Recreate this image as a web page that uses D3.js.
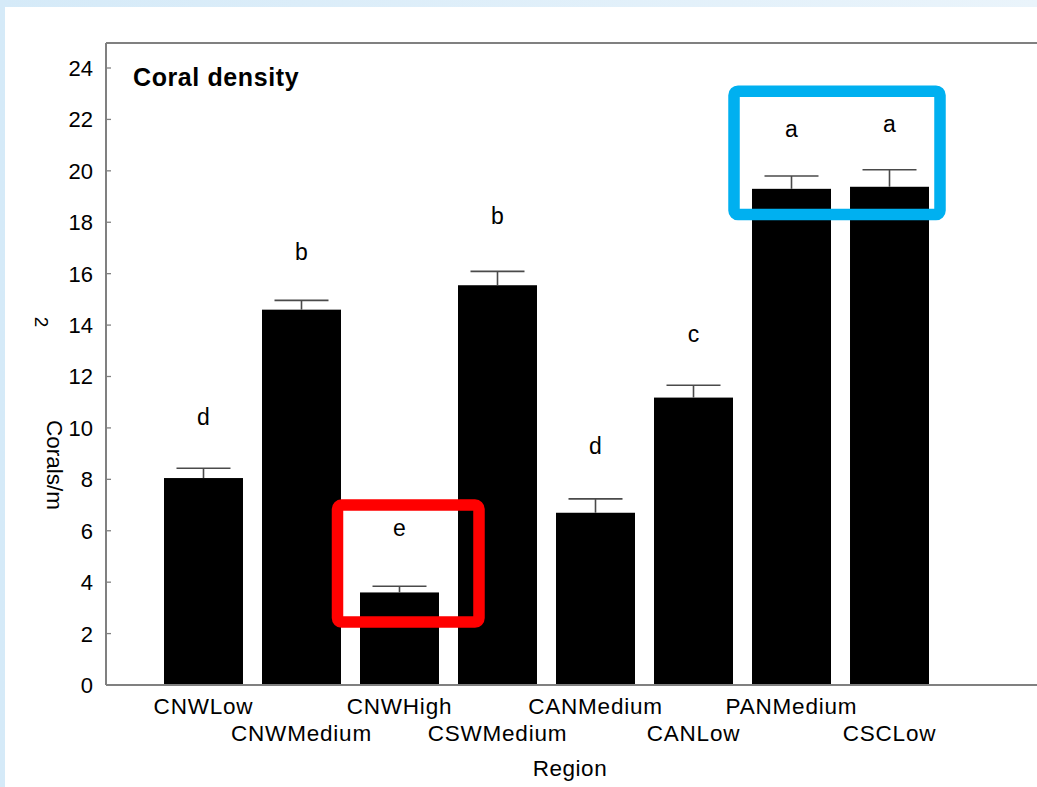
<!DOCTYPE html>
<html>
<head>
<meta charset="utf-8">
<script src="https://cdn.jsdelivr.net/npm/d3@7"></script>
<style>
  html, body { margin: 0; padding: 0; background: #fff; }
  svg { display: block; font-family: "Liberation Sans", Arial, sans-serif; }
</style>
</head>
<body>
<svg id="chart" width="1037" height="787"></svg>
<script>
// data
const regions = ["CNWLow", "CNWMedium", "CNWHigh", "CSWMedium", "CANMedium", "CANLow", "PANMedium", "CSCLow"];
const means = [8.05, 14.6, 3.6, 15.55, 6.7, 11.18, 19.3, 19.38];
const errors = [0.38, 0.36, 0.24, 0.54, 0.54, 0.48, 0.5, 0.66];
const groups = ["d", "b", "e", "b", "d", "c", "a", "a"];
const groupLevel = [10.45, 16.85, 6.1, 18.25, 9.3, 13.65, 21.65, 21.85];
const yTicks = [0, 2, 4, 6, 8, 10, 12, 14, 16, 18, 20, 22, 24];

const W = 1037, H = 787;
const AXIS = "#808080";
const svg = d3.select("#chart");

// light blue frame around the white panel
const defs = svg.append("defs");
const grad = defs.append("linearGradient").attr("id", "bg").attr("x1", 0).attr("x2", 1);
grad.append("stop").attr("offset", 0).attr("stop-color", "#d5eaf8");
grad.append("stop").attr("offset", 1).attr("stop-color", "#eaf4fb");
svg.append("rect").attr("width", W).attr("height", H).attr("fill", "url(#bg)");
svg.append("rect").attr("x", 5).attr("y", 7).attr("width", W - 5).attr("height", H - 7).attr("fill", "#fff");

const plot = { left: 106, top: 43, right: 1040, bottom: 685 };

const x = d3.scaleBand().domain(regions).range([164, 929]).paddingInner(0.194).paddingOuter(0);
const y = d3.scaleLinear().domain([0, 24]).range([plot.bottom, 68]);

// top frame line
svg.append("line").attr("x1", plot.left).attr("x2", plot.right)
  .attr("y1", plot.top).attr("y2", plot.top).attr("stroke", AXIS).attr("stroke-width", 2);

// y axis: ticks inside, labels outside
const yAxis = svg.append("g").attr("transform", `translate(${plot.left},0)`);
yAxis.append("line").attr("x1", 0).attr("x2", 0).attr("y1", plot.top).attr("y2", plot.bottom)
  .attr("stroke", AXIS).attr("stroke-width", 2);
yAxis.selectAll(".tick").data(yTicks).enter().append("line")
  .attr("x1", 0).attr("x2", 5)
  .attr("y1", d => y(d)).attr("y2", d => y(d))
  .attr("stroke", AXIS).attr("stroke-width", 1.3);
yAxis.selectAll(".lbl").data(yTicks).enter().append("text")
  .attr("x", -13).attr("y", d => y(d)).attr("dy", "0.36em")
  .attr("text-anchor", "end").attr("font-size", 22).attr("fill", "#000")
  .text(d => d);

// bars
svg.selectAll(".bar").data(regions).enter().append("rect")
  .attr("x", d => x(d)).attr("width", x.bandwidth())
  .attr("y", (d, i) => y(means[i]))
  .attr("height", (d, i) => y(0) - y(means[i]))
  .attr("fill", "#000");

// error bars (upper only)
const err = svg.append("g").attr("stroke", "#4a4a4a").attr("stroke-width", 1.6);
regions.forEach((r, i) => {
  const cx = x(r) + x.bandwidth() / 2;
  err.append("line").attr("x1", cx).attr("x2", cx)
    .attr("y1", y(means[i])).attr("y2", y(means[i] + errors[i]));
  err.append("line").attr("x1", cx - 27).attr("x2", cx + 27)
    .attr("y1", y(means[i] + errors[i])).attr("y2", y(means[i] + errors[i]));
});

// bottom axis line drawn over bars
svg.append("line").attr("x1", plot.left).attr("x2", plot.right)
  .attr("y1", plot.bottom).attr("y2", plot.bottom).attr("stroke", AXIS).attr("stroke-width", 2);

// group letters
svg.selectAll(".grp").data(regions).enter().append("text")
  .attr("x", d => x(d) + x.bandwidth() / 2)
  .attr("y", (d, i) => y(groupLevel[i])).attr("dy", "0.36em")
  .attr("text-anchor", "middle").attr("font-size", 23)
  .text((d, i) => groups[i]);

// category labels on two staggered rows
svg.selectAll(".xl").data(regions).enter().append("text")
  .attr("x", d => x(d) + x.bandwidth() / 2)
  .attr("y", (d, i) => i % 2 === 0 ? 714 : 741)
  .attr("text-anchor", "middle").attr("font-size", 22.5)
  .attr("letter-spacing", 0.8)
  .text(d => d);

// axis titles
svg.append("text").attr("x", 570).attr("y", 776).attr("text-anchor", "middle")
  .attr("font-size", 22.5).attr("letter-spacing", 0.5).text("Region");
svg.append("text").attr("transform", "translate(47,465) rotate(90)")
  .attr("text-anchor", "middle").attr("font-size", 22.5).text("Corals/m");
svg.append("text").attr("transform", "translate(35,322) rotate(90)")
  .attr("text-anchor", "middle").attr("font-size", 19).text("2");

// panel title
svg.append("text").attr("x", 133).attr("y", 86).attr("font-size", 25)
  .attr("font-weight", "bold").attr("letter-spacing", 0.6).text("Coral density");

// highlight boxes
const hi = svg.append("g").attr("fill", "none");
hi.append("rect")
  .attr("x", x("CNWHigh") - 22.5).attr("y", y(7.0))
  .attr("width", x("CNWHigh") + x.bandwidth() + 40 - (x("CNWHigh") - 22.5))
  .attr("height", y(2.45) - y(7.0))
  .attr("rx", 4).attr("stroke", "#ff0000").attr("stroke-width", 11.5);
hi.append("rect")
  .attr("x", x("PANMedium") - 18).attr("y", y(23.1))
  .attr("width", x("CSCLow") + x.bandwidth() + 11 - (x("PANMedium") - 18))
  .attr("height", y(18.3) - y(23.1))
  .attr("rx", 4).attr("stroke", "#00b0f0").attr("stroke-width", 11.5);
</script>
</body>
</html>
